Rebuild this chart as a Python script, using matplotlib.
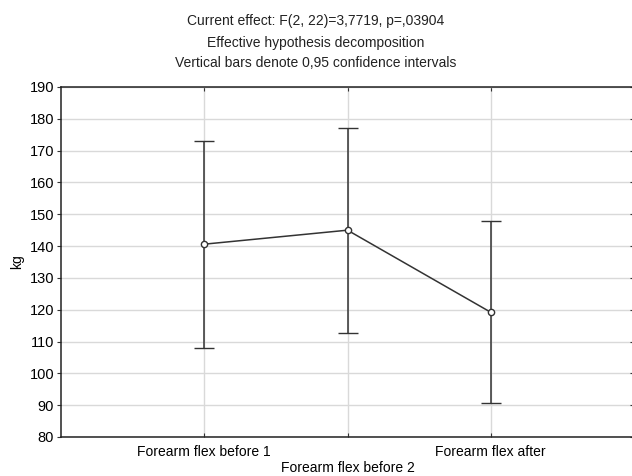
import matplotlib
matplotlib.use("Agg")
import matplotlib.pyplot as plt
import numpy as np

plt.rcParams['font.family'] = ['Liberation Sans', 'DejaVu Sans']

categories = ["Forearm flex before 1", "Forearm flex before 2", "Forearm flex after"]
means = [140.6, 145.0, 119.2]
upper = [173.0, 177.1, 148.0]
lower = [108.0, 112.8, 90.6]
title_lines = [
    "Current effect: F(2, 22)=3,7719, p=,03904",
    "Effective hypothesis decomposition",
    "Vertical bars denote 0,95 confidence intervals",
]

W, H = 632, 476
fig = plt.figure(figsize=(W / 100, H / 100), dpi=100)
ax = fig.add_axes([61 / W, 1 - 437 / H, (634 - 61) / W, (437 - 87) / H])

x = np.arange(1, len(categories) + 1)
m = np.array(means)
yerr = [m - np.array(lower), np.array(upper) - m]

col = "#333333"
ax.errorbar(x, m, yerr=yerr, color=col, lw=1.1, elinewidth=1.1, capsize=7.5,
            capthick=1.1, marker="o", ms=4.5, mfc="white", mec=col, mew=1.0, zorder=3)

ax.set_xlim(0, 4)
ax.set_ylim(80, 190)
ax.set_yticks(np.arange(80, 191, 10))
ax.set_xticks(x)
labels = [c if i % 2 == 0 else "\n" + c for i, c in enumerate(categories)]
ax.set_xticklabels(labels, fontsize=10, linespacing=1.25)
ax.tick_params(axis="y", labelsize=10.5, direction="out", length=3, right=True, color=col, pad=2)
ax.tick_params(axis="x", direction="in", length=3, top=True, color=col, pad=5.5)
for t in ax.yaxis.get_major_ticks():
    t.tick2line.set_marker(0)
ax.grid(True, color="#d9d9d9", lw=1.0, zorder=0)
ax.set_axisbelow(True)
for s in ax.spines.values():
    s.set_color("#222222")
    s.set_linewidth(1.1)

ax.set_ylabel("kg", fontsize=10, labelpad=4)

ys = [21, 43, 63]
for t, yp in zip(title_lines, ys):
    fig.text(0.5, 1 - yp / H, t, ha="center", va="center", fontsize=10, color="#222222")

plt.savefig("out.png", dpi=100)
